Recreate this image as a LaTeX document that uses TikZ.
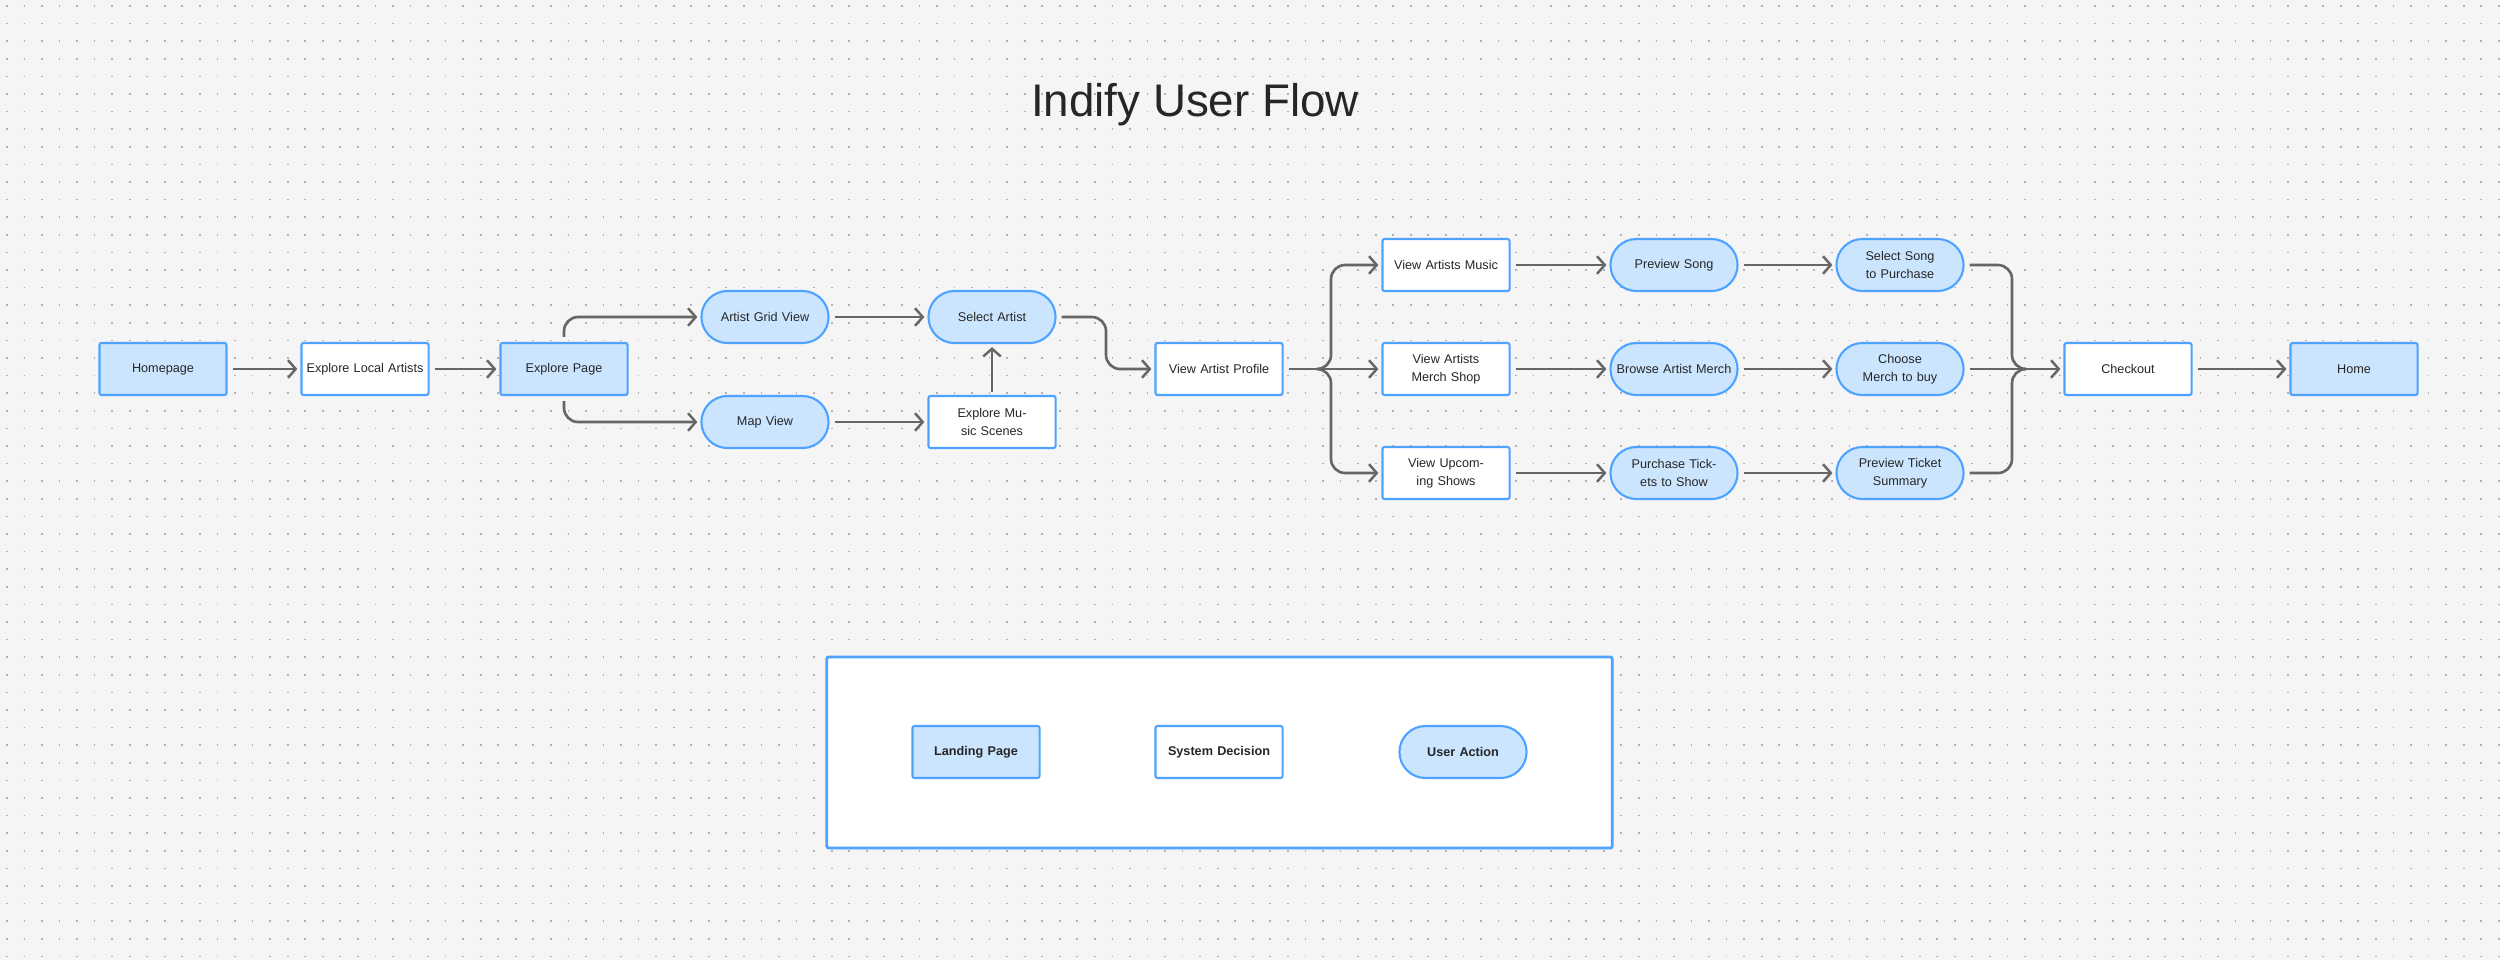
\documentclass[tikz,border=0pt]{standalone}
\usepackage{fontspec}
\setmainfont{Liberation Sans}
\usetikzlibrary{arrows.meta}
\definecolor{bg}{HTML}{F5F5F5}
\definecolor{bfill}{HTML}{CCE5FF}
\definecolor{bline}{HTML}{4DA3FF}
\definecolor{cline}{HTML}{666666}
\begin{document}
\begin{tikzpicture}[x=0.01cm,y=-0.01cm,
  base/.style={draw=bline,line width=0.6pt,minimum width=1.23cm,minimum height=0.52cm,inner sep=1pt,align=center,text width=1.2cm,font=\fontsize{3.6}{5}\selectfont,text=black!85},
  landing/.style={base,fill=bfill,rounded corners=0.6pt},
  sys/.style={base,fill=white,rounded corners=0.6pt},
  act/.style={base,fill=bfill,rounded corners=2.6mm},
  lg/.style={font=\fontsize{3.6}{5}\selectfont\bfseries},
  conn/.style={draw=cline,line width=0.75pt,rounded corners=4pt,-{Straight Barb[length=2.2pt,width=5pt,line width=0.7pt]}},
  line/.style={draw=cline,line width=0.75pt,rounded corners=4pt}]
\fill[bg] (0,0) rectangle (2500,960);
\useasboundingbox (0,0) rectangle (2500,960);
\foreach \j in {0,...,54}{\draw[black!30,line width=0.5pt,dash pattern=on 0.5pt off 4.49pt] (6,\j*17.6+6) -- (2500,\j*17.6+6);}
\node[font=\fontsize{13}{15}\selectfont,text=black!85] (title) at (1195,105) {Indify User Flow};
% nodes
\node[landing] (home) at (163,369) {Homepage};
\node[sys] (ela) at (365,369) {Explore Local Artists};
\node[landing] (ep) at (564,369) {Explore Page};
\node[act] (agv) at (765,317) {Artist Grid View};
\node[act] (map) at (765,422) {Map View};
\node[act] (sa) at (992,317) {Select Artist};
\node[sys] (ems) at (992,422) {Explore Music Scenes};
\node[sys] (vap) at (1219,369) {View Artist Profile};
\node[sys] (vam) at (1446,265) {View Artists Music};
\node[sys] (vms) at (1446,369) {View Artists Merch Shop};
\node[sys] (vus) at (1446,473) {View Upcoming Shows};
\node[act] (ps) at (1674,265) {Preview Song};
\node[act] (bam) at (1674,369) {Browse Artist Merch};
\node[act] (pts) at (1674,473) {Purchase Tickets to Show};
\node[act] (ssp) at (1900,265) {Select Song to Purchase};
\node[act] (cmb) at (1900,369) {Choose Merch to buy};
\node[act] (pvt) at (1900,473) {Preview Ticket Summary};
\node[sys] (co) at (2128,369) {Checkout};
\node[landing] (hm) at (2354,369) {Home};
% connectors
\draw[conn] ([xshift=0.05cm]home.east) -- ([xshift=-0.03cm]ela.west);
\draw[conn] ([xshift=0.05cm]ela.east) -- ([xshift=-0.03cm]ep.west);
\draw[conn] ([yshift=0.05cm]ep.north) |- ([xshift=-0.03cm]agv.west);
\draw[conn] ([yshift=-0.05cm]ep.south) |- ([xshift=-0.03cm]map.west);
\draw[conn] ([xshift=0.05cm]agv.east) -- ([xshift=-0.03cm]sa.west);
\draw[conn] ([xshift=0.05cm]map.east) -- ([xshift=-0.03cm]ems.west);
\draw[conn] ([yshift=0.03cm]ems.north) -- ([yshift=-0.03cm]sa.south);
\draw[conn] ([xshift=0.05cm]sa.east) -| (1106,369) -- ([xshift=-0.03cm]vap.west);
\coordinate (br) at (1331,369);
\draw[line] ([xshift=0.05cm]vap.east) -- (br);
\draw[conn] (1320,369) -- ([xshift=-0.03cm]vms.west);
\draw[conn] (1320,369) -| (1331,330) |- ([xshift=-0.03cm]vam.west);
\draw[conn] (1320,369) -| (1331,410) |- ([xshift=-0.03cm]vus.west);
\draw[conn] ([xshift=0.05cm]vam.east) -- ([xshift=-0.03cm]ps.west);
\draw[conn] ([xshift=0.05cm]vms.east) -- ([xshift=-0.03cm]bam.west);
\draw[conn] ([xshift=0.05cm]vus.east) -- ([xshift=-0.03cm]pts.west);
\draw[conn] ([xshift=0.05cm]ps.east) -- ([xshift=-0.03cm]ssp.west);
\draw[conn] ([xshift=0.05cm]bam.east) -- ([xshift=-0.03cm]cmb.west);
\draw[conn] ([xshift=0.05cm]pts.east) -- ([xshift=-0.03cm]pvt.west);
\coordinate (mg) at (2024,369);
\draw[line] ([xshift=0.05cm]ssp.east) -| (2012,330) |- (mg);
\draw[line] ([xshift=0.05cm]pvt.east) -| (2012,410) |- (mg);
\draw[conn] ([xshift=0.05cm]cmb.east) -- ([xshift=-0.03cm]co.west);
\draw[conn] ([xshift=0.05cm]co.east) -- ([xshift=-0.03cm]hm.west);
% legend
\node[draw=bline,line width=0.8pt,fill=white,minimum width=7.85cm,minimum height=1.91cm,rounded corners=0.6pt] (legend) at (1219.5,752.5) {};
\node[landing,lg] (l1) at (976,752) {Landing Page};
\node[sys,lg] (l2) at (1219,752) {System Decision};
\node[act,lg] (l3) at (1463,752) {User Action};
\end{tikzpicture}
\end{document}
